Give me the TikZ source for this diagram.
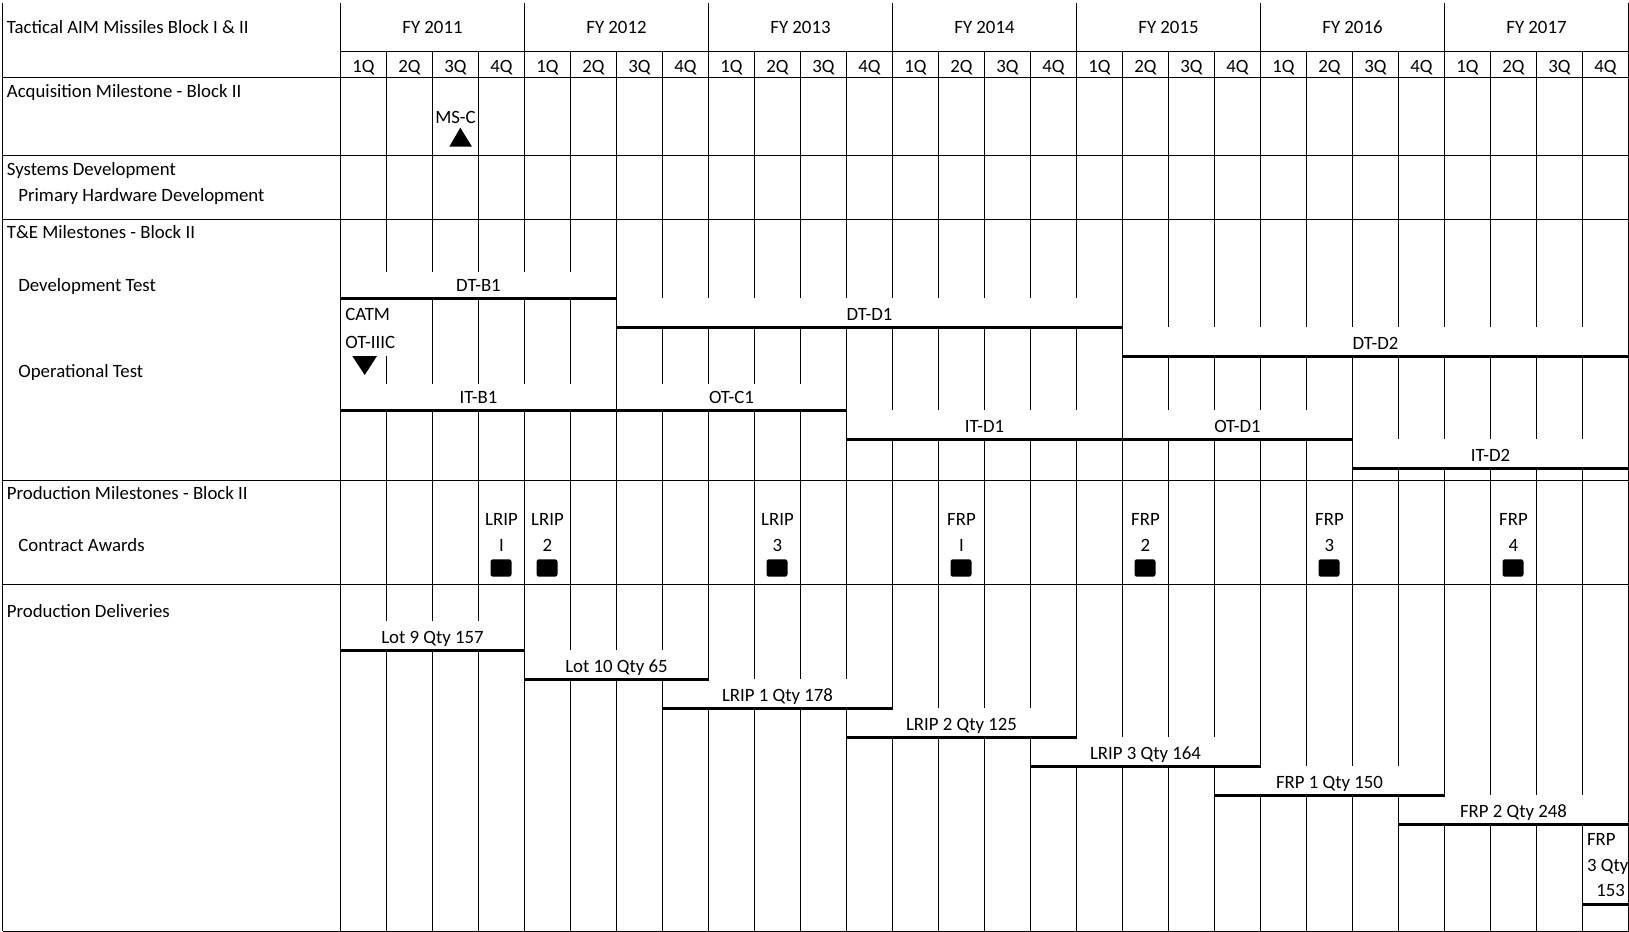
\documentclass[tikz,border=0pt]{standalone}
\usepackage{fontspec}
\setmainfont{Carlito}
\usepackage{tikz}
\usetikzlibrary{positioning}

\def\barlist{0/6/271.7/298.3/DT-B1, 6/17/298.3/327.3/DT-D1, 17/28/327.3/356.3/DT-D2,
  0/6/383.7/410/IT-B1, 6/11/383.7/410/OT-C1, 11/17/410/439/IT-D1, 17/22/410/439/OT-D1,
  22/28/439/468/IT-D2, 0/4/621.3/650.3/Lot 9 Qty 157, 4/8/650.3/679.3/Lot 10 Qty 65,
  7/12/679.3/708.3/LRIP 1 Qty 178, 11/16/708.3/737.3/LRIP 2 Qty 125,
  15/20/737.3/766.3/LRIP 3 Qty 164, 19/24/766.3/795.3/FRP 1 Qty 150,
  23/28/795.3/824.3/FRP 2 Qty 248}

\begin{document}
\begin{tikzpicture}[x=0.5pt,y=-0.5pt,font=\fontsize{9.4}{11}\selectfont,
    gridline/.style={line width=0.5pt},
    barline/.style={line width=1.5pt},
    lbl/.style={anchor=base,inner sep=0pt},
    rowlbl/.style={anchor=base west,inner sep=0pt},
    award/.style={fill=black,rounded corners=1.2pt}]
    \useasboundingbox (0,0) rectangle (1629,932);
    % grid
    \draw[gridline] (2.5,3) -- (2.5,931);
    \foreach \k in {0,4,...,28}
        \draw[gridline] ({340.5+46*\k},3) -- ({340.5+46*\k},51.7);
    \foreach \k in {0,...,28}
        \draw[gridline] ({340.5+46*\k},51.7) -- ({340.5+46*\k},931);
    \draw[gridline] (340.5,51.7) -- (1628.5,51.7);
    \foreach \y in {77.3,155,219.3,480.3,584.3,931}
        \draw[gridline] (2.5,\y) -- (1628.5,\y);
    % label rows hide the inner grid lines
    \foreach \a/\b/\t/\y/\txt in \barlist
        \fill[white] ({341.5+46*\a},\t) rectangle ({339.5+46*\b},\y);
    \fill[white] (385,299.5) rectangle (388,356);
    % header
    \foreach \f [count=\i from 0] in {2011,...,2017}
        \node[lbl] (fy\f) at ({432.5+184*\i},33.3) {FY \f};
    \foreach \k [evaluate=\k as \q using {int(mod(\k,4)+1)}] in {0,...,27}
        \node[lbl] (q\k) at ({363.5+46*\k},72.7) {\q Q};
    % row titles
    \node[rowlbl] (title) at (6.5,33.3) {Tactical AIM Missiles Block I \& II};
    \node[rowlbl] (acq) at (6.5,97.5) {Acquisition Milestone - Block II};
    \node[rowlbl] (sysdev) at (6.5,175.5) {Systems Development};
    \node[rowlbl] (hwdev) at (18,201.5) {Primary Hardware Development};
    \node[rowlbl] (temile) at (6.5,238.8) {T\&E Milestones - Block II};
    \node[rowlbl] (devtest) at (18,291) {Development Test};
    \node[rowlbl] (optest) at (18,377) {Operational Test};
    \node[rowlbl] (prodmile) at (6.5,499.5) {Production Milestones - Block II};
    \node[rowlbl] (awards) at (18,551.7) {Contract Awards};
    \node[rowlbl] (deliv) at (6.5,617) {Production Deliveries};
    % milestones
    \node[lbl] (msc) at (455.5,123.3) {MS-C};
    \fill (449.3,146.7) -- (460.3,127.7) -- (472,146.7) -- cycle;
    \node[rowlbl] (catm) at (345,320) {CATM};
    \node[rowlbl] (ot3c) at (345,348.7) {OT-IIIC};
    \fill (352.3,356) -- (377,356) -- (364.7,375) -- cycle;
    % bars
    \foreach \a/\b/\t/\y/\txt [count=\i] in \barlist {
        \draw[barline] ({340.5+46*\a},\y) -- ({340.5+46*\b},\y);
        \node[lbl] (bar\i) at ({340.5+23*(\a+\b)},{\y-7}) {\txt};
    }
    \draw[barline] (1582.5,904.3) -- (1628.5,904.3);
    \node[rowlbl] (frp3a) at (1586.7,845) {FRP};
    \node[rowlbl] (frp3b) at (1586.7,871) {3 Qty};
    \node[rowlbl] (frp3c) at (1596,896.7) {153};
    % contract awards
    \foreach \k/\m/\n [count=\i] in {3/LRIP/I, 4/LRIP/2, 9/LRIP/3, 13/FRP/I, 17/FRP/2, 21/FRP/3, 25/FRP/4} {
        \node[lbl] (aw\i) at ({363.5+46*\k},525.7) {\m};
        \node[lbl] (awn\i) at ({363.5+46*\k},551.7) {\n};
        \fill[award] ({352.5+46*\k},559.3) rectangle ({373.5+46*\k},576.7);
    }
\end{tikzpicture}
\end{document}
